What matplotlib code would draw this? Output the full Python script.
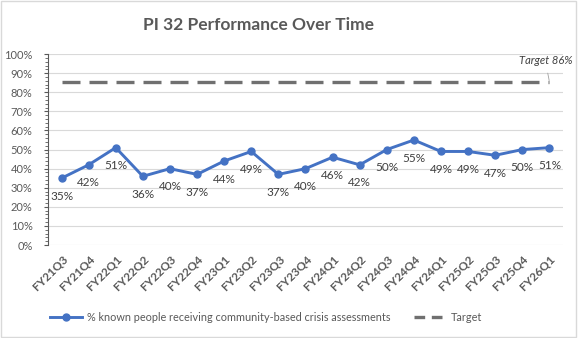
import matplotlib
matplotlib.use('Agg')
import matplotlib.pyplot as plt
from matplotlib.ticker import MultipleLocator, PercentFormatter
from matplotlib.lines import Line2D

quarters = ['FY21Q3', 'FY21Q4', 'FY22Q1', 'FY22Q2', 'FY22Q3', 'FY22Q4',
            'FY23Q1', 'FY23Q2', 'FY23Q3', 'FY23Q4', 'FY24Q1', 'FY24Q2',
            'FY24Q3', 'FY24Q4', 'FY24Q1', 'FY25Q2', 'FY25Q3', 'FY25Q4', 'FY26Q1']
pct_assessed = [35, 42, 51, 36, 40, 37, 44, 49, 37, 40, 46, 42, 50, 55, 49, 49, 47, 50, 51]
target = 86

series_name = '% known people receiving community-based crisis assessments'
gray = '#595959'
blue = '#4472C4'
tgray = '#707070'

plt.rcParams['font.family'] = ['Lato', 'DejaVu Sans']

fig = plt.figure(figsize=(5.78, 3.38), dpi=100)
ax = fig.add_axes([0.083, 0.275, 0.891, 0.565])

x = list(range(len(quarters)))
ax.plot(x, [target - 0.5] * len(x), color=tgray, lw=2.4, dashes=(5.4, 2.7), zorder=2)
ax.plot(x, pct_assessed, color=blue, lw=2.1, marker='o', ms=5, zorder=3)

for xi, v in zip(x, pct_assessed):
    ax.annotate('%d%%' % v, (xi, v), xytext=(0, -13), textcoords='offset points',
                ha='center', va='center', fontsize=8.5, color='#404040')

ax.annotate('Target %d%%' % target, xy=(x[-1], target - 0.5), xytext=(x[-1] - 0.15, target + 10.5),
            ha='center', va='center', fontsize=8, style='italic', color='#404040',
            arrowprops=dict(arrowstyle='-', color='#a0a0a0', lw=0.6, shrinkA=3, shrinkB=1))

ax.set_xlim(-0.5, len(x) - 0.5)
ax.set_ylim(0, 100)
ax.yaxis.set_major_locator(MultipleLocator(10))
ax.yaxis.set_minor_locator(MultipleLocator(2))
ax.yaxis.set_major_formatter(PercentFormatter(decimals=0))
ax.set_xticks(x)
ax.set_xticklabels(quarters, rotation=45, ha='right', rotation_mode='anchor',
                   fontweight='bold', fontsize=8.5, color=gray)
ax.tick_params(axis='x', length=0, pad=6)
ax.tick_params(axis='y', which='major', length=3, color=gray, labelsize=8, labelcolor=gray, pad=8)
ax.tick_params(axis='y', which='minor', length=2, color=gray)
ax.grid(axis='y', color='#d9d9d9', lw=0.8)
ax.set_axisbelow(True)
for s in ['top', 'right', 'bottom']:
    ax.spines[s].set_visible(False)
ax.spines['left'].set_color(gray)
ax.spines['left'].set_linewidth(0.8)

fig.text(0.448, 0.926, 'PI 32 Performance Over Time', ha='center', va='center',
         fontsize=12.5, fontweight='bold', color=gray)

handles = [Line2D([], [], color=blue, lw=2.1, marker='o', ms=5),
           Line2D([], [], color=tgray, lw=2.4, dashes=(3.2, 2.0))]
fig.legend(handles, [series_name, 'Target'], loc='center', bbox_to_anchor=(0.46, 0.062),
           ncol=2, frameon=False, fontsize=7.8, labelcolor=gray, handlelength=3.0,
           columnspacing=2.2, handletextpad=0.4)

fig.add_artist(plt.Rectangle((0.002, 0.003), 0.995, 0.993, transform=fig.transFigure,
                             fill=False, ec='#d9d9d9', lw=1))

fig.savefig('out.png', dpi=100)
